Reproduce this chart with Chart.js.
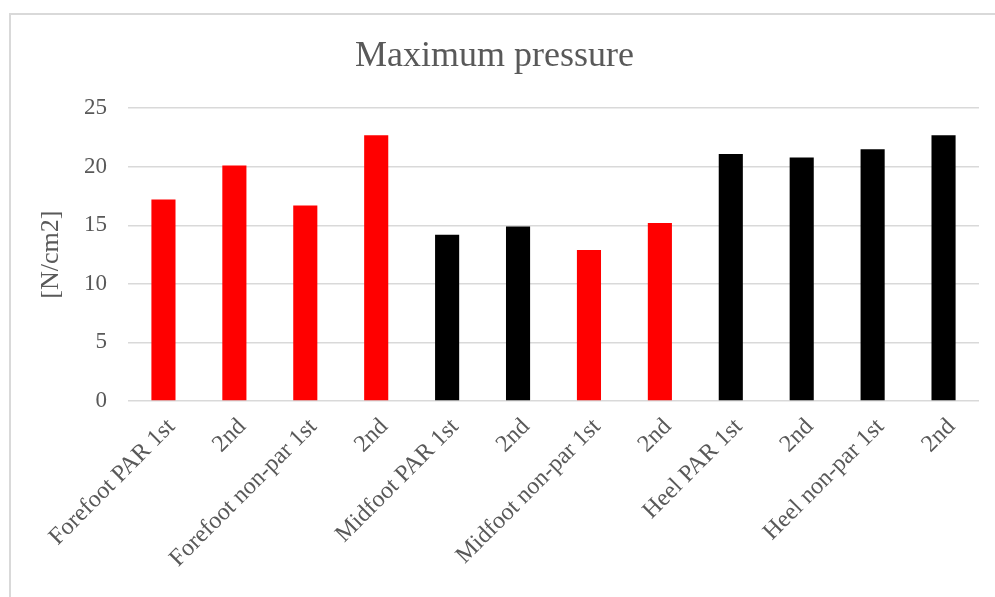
<!DOCTYPE html>
<html>
<head>
<meta charset="utf-8">
<script src="https://cdn.jsdelivr.net/npm/chart.js@4.4.1/dist/chart.umd.min.js"></script>
<style>
  html, body { margin: 0; padding: 0; background: #fff; overflow: hidden; }
  body { width: 995px; height: 597px; position: relative; }
  #frame {
    position: absolute; left: 9px; top: 13px; width: 1000px; height: 600px;
    border: 2px solid #d9d9d9; box-sizing: border-box;
  }
  #wrap { position: absolute; left: 10px; top: 14px; width: 996px; height: 583px; }
</style>
</head>
<body>
<div id="frame"></div>
<div id="wrap"><canvas id="chart"></canvas></div>
<script>
// Plantar pressure categories (foot region, side, measurement)
const categories = [
  'Forefoot PAR 1st', '2nd', 'Forefoot non-par 1st', '2nd',
  'Midfoot PAR 1st', '2nd', 'Midfoot non-par 1st', '2nd',
  'Heel PAR 1st', '2nd', 'Heel non-par 1st', '2nd'
];
// Maximum pressure values in N/cm2
const maxPressure = [17.2, 20.1, 16.7, 22.7, 14.2, 14.9, 12.9, 15.2, 21.1, 20.8, 21.5, 22.7];
const barColors = ['#ff0000', '#ff0000', '#ff0000', '#ff0000', '#000000', '#000000',
                   '#ff0000', '#ff0000', '#000000', '#000000', '#000000', '#000000'];
const yTicks = [0, 5, 10, 15, 20, 25];

const serif = '"Liberation Serif", "Times New Roman", serif';
const grey = '#595959';

new Chart(document.getElementById('chart'), {
  type: 'bar',
  data: {
    labels: categories,
    datasets: [{
      data: maxPressure,
      backgroundColor: barColors,
      borderWidth: 0,
      categoryPercentage: 1,
      barPercentage: 0.34
    }]
  },
  options: {
    responsive: true,
    maintainAspectRatio: false,
    animation: false,
    layout: { padding: { left: 0, right: 27, top: 0, bottom: 0 } },
    plugins: {
      legend: { display: false },
      tooltip: { enabled: false },
      title: {
        display: true,
        text: 'Maximum pressure',
        color: grey,
        font: { family: serif, size: 36, weight: 'normal', lineHeight: 1.2 },
        padding: { top: 21, bottom: 30 }
      }
    },
    scales: {
      x: {
        grid: { display: false },
        border: { display: false },
        ticks: {
          color: grey,
          font: { family: serif, size: 24 },
          minRotation: 45,
          maxRotation: 45,
          autoSkip: false,
          padding: 4,
          labelOffset: 8
        },
        afterFit: (scale) => { scale.height = 196; }
      },
      y: {
        min: 0,
        max: 25,
        afterBuildTicks: (scale) => { scale.ticks = yTicks.map(v => ({ value: v })); },
        grid: { color: '#d9d9d9', lineWidth: 1.5, drawTicks: false },
        border: { display: false },
        ticks: {
          color: grey,
          font: { family: serif, size: 23 },
          padding: 21
        },
        title: {
          display: true,
          text: '[N/cm2]',
          color: grey,
          font: { family: serif, size: 26 },
          padding: { top: 26, bottom: 0 }
        },
        afterFit: (scale) => { scale.width = 118; }
      }
    }
  }
});
</script>
</body>
</html>
